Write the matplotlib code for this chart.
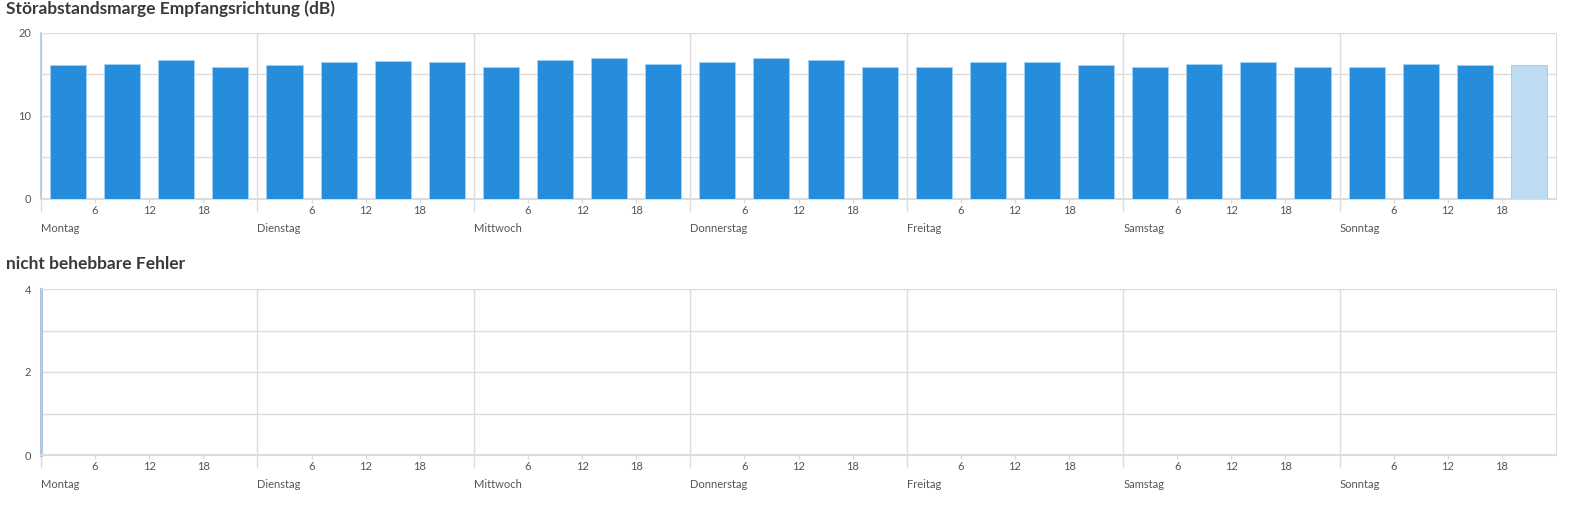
import matplotlib
matplotlib.use("Agg")
import matplotlib.pyplot as plt

TAGE = ["Montag", "Dienstag", "Mittwoch", "Donnerstag", "Freitag", "Samstag", "Sonntag"]
STUNDEN = [6, 12, 18]

# Stoerabstandsmarge, 4 Werte pro Tag (0-6, 6-12, 12-18, 18-24 Uhr)
SNR = [16.1, 16.3, 16.75, 15.95,
       16.1, 16.45, 16.6, 16.45,
       15.95, 16.75, 16.95, 16.3,
       16.45, 16.95, 16.75, 15.95,
       15.95, 16.45, 16.45, 16.1,
       15.95, 16.3, 16.45, 15.95,
       15.95, 16.3, 16.1, 16.1]
# letzter Wert ist noch nicht abgeschlossen (hell)
SNR_AKTUELL = 27

FEHLER = [0] * 28

BLAU = "#268ddd"
HELLBLAU = "#bddcf2"
RAND = "#9fd0f5"
GRAU = "#dcdcdc"
TEXT = "#555555"

plt.rcParams['font.family'] = ['Lato', 'DejaVu Sans']

fig = plt.figure(figsize=(15.74, 5.13), dpi=100)
W, H = 1574, 513


def achse(top_px, bot_px):
	return fig.add_axes([41 / W, 1 - bot_px / H, (1556 - 41) / W, (bot_px - top_px) / H])


def formatieren(ax, ymax, ystep, ylabels):
	ax.set_xlim(0, 168)
	ax.set_ylim(0, ymax)
	werte = [i * ystep for i in range(int(ymax / ystep) + 1)]
	ax.set_yticks(werte)
	ax.set_yticklabels([str(v) if v in ylabels else "" for v in werte])
	ax.tick_params(axis="y", length=0, pad=7, labelsize=8, labelcolor=TEXT)
	ax.yaxis.grid(True, color=GRAU, linewidth=1)

	ax.set_xticks([24 * i for i in range(7)])
	ax.set_xticklabels(TAGE, ha="left")
	ax.tick_params(axis="x", which="major", length=9.5, width=1, color=GRAU,
				   pad=8, labelsize=8, labelcolor=TEXT)
	ax.set_xticks([24 * d + h for d in range(7) for h in STUNDEN], minor=True)
	ax.set_xticklabels([str(h) for d in range(7) for h in STUNDEN], minor=True)
	ax.tick_params(axis="x", which="minor", length=3, width=1, color=GRAU,
				   pad=1.5, labelsize=8, labelcolor=TEXT)
	ax.xaxis.grid(True, which="major", color=GRAU, linewidth=1)
	ax.set_axisbelow(True)

	for s in ["top", "right", "bottom"]:
		ax.spines[s].set_color(GRAU)
	ax.spines["bottom"].set_linewidth(1.5)
	ax.spines["left"].set_color("#b3c7db")


pos = [3 + 6 * i for i in range(28)]

ax1 = achse(33, 199)
farben = [HELLBLAU if i == SNR_AKTUELL else BLAU for i in range(28)]
ax1.bar(pos, SNR, width=4, color=farben, edgecolor=RAND, linewidth=0.7, zorder=3)
formatieren(ax1, 20, 5, [0, 10, 20])
ax1.spines["left"].set_linewidth(1.2)

ax2 = achse(289, 455)
ax2.bar(pos, FEHLER, width=4, color=BLAU, zorder=3)
formatieren(ax2, 4, 1, [0, 2, 4])
ax2.spines["left"].set_linewidth(2.2)

fig.text(6 / W, 1 - 9 / H, "Störabstandsmarge Empfangsrichtung (dB)", fontsize=12.5,
		 fontweight="bold", color="#3a3a3a", va="center", ha="left")
fig.text(6 / W, 1 - 264 / H, "nicht behebbare Fehler", fontsize=12.5,
		 fontweight="bold", color="#3a3a3a", va="center", ha="left")

fig.savefig("out.png", dpi=100)
